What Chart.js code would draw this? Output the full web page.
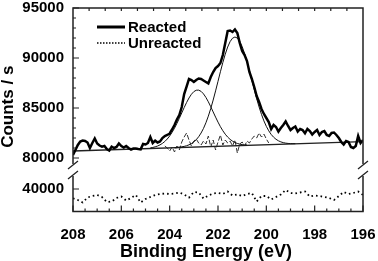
<!DOCTYPE html>
<html>
<head>
<meta charset="utf-8">
<script src="https://cdn.jsdelivr.net/npm/chart.js@4"></script>
<style>html,body{margin:0;padding:0;background:#fff}</style>
</head>
<body>
<canvas id="xps" width="378" height="261"></canvas>
<script>
// binding energy grid, 0.1 eV steps
const energy = [
  208, 207.9, 207.8, 207.7, 207.6, 207.5, 207.4, 207.3, 207.2, 207.1,
  207, 206.9, 206.8, 206.7, 206.6, 206.5, 206.4, 206.3, 206.2, 206.1,
  206, 205.9, 205.8, 205.7, 205.6, 205.5, 205.4, 205.3, 205.2, 205.1,
  205, 204.9, 204.8, 204.7, 204.6, 204.5, 204.4, 204.3, 204.2, 204.1,
  204, 203.9, 203.8, 203.7, 203.6, 203.5, 203.4, 203.3, 203.2, 203.1,
  203, 202.9, 202.8, 202.7, 202.6, 202.5, 202.4, 202.3, 202.2, 202.1,
  202, 201.9, 201.8, 201.7, 201.6, 201.5, 201.4, 201.3, 201.2, 201.1,
  201, 200.9, 200.8, 200.7, 200.6, 200.5, 200.4, 200.3, 200.2, 200.1,
  200, 199.9, 199.8, 199.7, 199.6, 199.5, 199.4, 199.3, 199.2, 199.1,
  199, 198.9, 198.8, 198.7, 198.6, 198.5, 198.4, 198.3, 198.2, 198.1,
  198, 197.9, 197.8, 197.7, 197.6, 197.5, 197.4, 197.3, 197.2, 197.1,
  197, 196.9, 196.8, 196.7, 196.6, 196.5, 196.4, 196.3, 196.2, 196.1,
  196
];

const reacted = [
  80300, 80800, 81300, 81650, 81750, 81700, 81550, 81000, 81500, 81950,
  81450, 81250, 81130, 81200, 80900, 80750, 81130, 81000, 81100, 81450,
  81200, 81050, 81200, 81000, 80850, 80950, 80950, 80900, 80870, 81400,
  81350, 81500, 82100, 81500, 81730, 81550, 81650, 82000, 82200, 82300,
  82450, 82850, 83300, 83850, 84300, 85100, 86400, 87130, 87900, 87800,
  87600, 87800, 87950, 87900, 87750, 87600, 87450, 88100, 88600, 89000,
  89200, 89500, 90300, 91500, 92700, 92750, 92600, 92850, 92500, 91500,
  90700, 90300, 89700, 88600, 87900, 87100, 86200, 85600, 84900, 84400,
  84000, 83600, 82900, 83300, 83100, 82650, 83000, 83300, 83650, 83200,
  82800, 83000, 83150, 82650, 82900, 82800, 82470, 82900, 82700, 82350,
  82600, 82800, 82300, 82600, 82700, 82300, 82200, 82500, 82550, 82300,
  82000, 81600, 81350, 81700, 81600, 81100, 81000, 81200, 82200, 81500,
  81800
];

// unreacted, every second energy point (0.2 eV)
const unreacted = [
  39070, 38900, 38650, 39150, 39300, 39400, 39200, 38700, 38750, 39100,
  39250, 38850, 39100, 39400, 38650, 39000, 39200, 39400, 39500, 39550,
  39500, 39550, 39650, 39450, 39150, 39700, 39650, 39050, 39350, 39550,
  39600, 39500, 39750, 39350, 39450, 39300, 39500, 39600, 38750, 39300,
  39300, 38950, 39200, 39450, 39900, 39600, 39550, 39650, 39750, 39250,
  39350, 39300, 39200, 39100, 38900, 39300, 39700, 39500, 39600, 39750,
  39400
];

// fitted components, 204.8 -> 200.8 eV
const peak1 = [
  81010, 81055, 81116, 81198, 81311, 81461, 81653, 81899, 82201, 82564,
  82983, 83457, 83971, 84506, 85041, 85549, 86003, 86373, 86640, 86778,
  86786, 86663, 86411, 86057, 85619, 85127, 84606, 84087, 83589, 83131,
  82726, 82379, 82093, 81863, 81685, 81551, 81454, 81387, 81341, 81313,
  81298
];
// 203.8 -> 198.8 eV
const peak2 = [
  81040, 81059, 81083, 81116, 81162, 81227, 81317, 81442, 81610, 81834,
  82127, 82499, 82962, 83523, 84186, 84948, 85795, 86712, 87668, 88628,
  89547, 90385, 91095, 91637, 91978, 92099, 91994, 91668, 91141, 90447,
  89625, 88721, 87776, 86836, 85935, 85103, 84356, 83709, 83164, 82716,
  82359, 82082, 81873, 81721, 81611, 81537, 81488, 81457, 81439, 81431,
  81428
];
// residual, 204.2 -> 199.9 eV
const residual = [
  81200, 81000, 80700, 81100, 80600, 81200, 80800, 81600, 82100, 82500,
  81800, 81200, 81700, 81900, 81500, 81300, 81700, 81400, 82200, 81100,
  81800, 80800, 81600, 82300, 81300, 81800, 81500, 81700, 81200, 81800,
  80500, 81400, 81600, 81200, 81700, 81500, 81900, 82200, 82000, 82500,
  82100, 82400, 81900, 81500
];

const bgEnergy = [208, 196];
const background = [80700, 81630];

const yTicksTop = [80000, 85000, 90000, 95000];
const yTicksBottom = [40000];

const pts = (xs, ys) => ys.map((y, i) => ({ x: xs[i], y: y }));

const FONT = '"Liberation Sans", Arial, sans-serif';

const breakFrame = {
  id: 'breakFrame',
  afterDraw(chart) {
    const { ctx, chartArea: a, scales } = chart;
    const x = scales.x, y = scales.y, y2 = scales.y2;
    const cut = Math.min(y.bottom, y2.bottom);
    const g1 = cut - 6, g2 = cut + 6;

    ctx.save();
    ctx.strokeStyle = '#222';
    ctx.lineWidth = 1.5;
    ctx.beginPath();
    ctx.moveTo(a.left, g1); ctx.lineTo(a.left, a.top);
    ctx.lineTo(a.right, a.top); ctx.lineTo(a.right, g1);
    ctx.moveTo(a.left, g2); ctx.lineTo(a.left, a.bottom);
    ctx.lineTo(a.right, a.bottom); ctx.lineTo(a.right, g2);
    ctx.stroke();

    // axis break marks
    ctx.lineWidth = 1.3;
    ctx.beginPath();
    [a.left, a.right].forEach((xe) => {
      [g1 + 1, g2 - 1].forEach((ye) => {
        ctx.moveTo(xe - 5, ye + 4);
        ctx.lineTo(xe + 5, ye - 4);
      });
    });
    ctx.stroke();

    // inward ticks
    ctx.lineWidth = 1.2;
    ctx.beginPath();
    for (let v = 196; v <= 208; v += 0.5) {
      const px = x.getPixelForValue(v);
      const len = v % 2 === 0 ? 6 : 3;
      ctx.moveTo(px, a.bottom); ctx.lineTo(px, a.bottom - len);
    }
    for (let k = 1; k < 18; k++) {
      const px = x.getPixelForValue(208 - (k * 2) / 3);
      ctx.moveTo(px, a.top); ctx.lineTo(px, a.top + 3);
    }
    for (let v = 79000; v <= 95000; v += 1000) {
      const py = y.getPixelForValue(v);
      if (py > g1) continue;
      const len = v % 5000 === 0 ? 6 : 3;
      ctx.moveTo(a.left, py); ctx.lineTo(a.left + len, py);
    }
    yTicksBottom.forEach((v) => {
      const py = y2.getPixelForValue(v);
      ctx.moveTo(a.left, py); ctx.lineTo(a.left + 6, py);
    });
    ctx.stroke();

    // legend
    const ds = chart.data.datasets;
    ctx.fillStyle = '#000';
    ctx.font = 'bold 15px ' + FONT;
    ctx.textBaseline = 'middle';
    ctx.textAlign = 'left';
    [0, 1].forEach((i, row) => {
      const ly = a.top + 19 + row * 16;
      ctx.beginPath();
      ctx.lineWidth = i === 0 ? 3 : 1.5;
      ctx.setLineDash(i === 0 ? [] : [1.5, 1.5]);
      ctx.strokeStyle = '#000';
      ctx.moveTo(a.left + 24, ly); ctx.lineTo(a.left + 52, ly);
      ctx.stroke();
      ctx.setLineDash([]);
      ctx.fillText(ds[i].label, a.left + 55, ly + 1);
    });

    // axis titles
    ctx.font = 'bold 18px ' + FONT;
    ctx.textAlign = 'center';
    ctx.textBaseline = 'alphabetic';
    ctx.fillText('Binding Energy (eV)', (a.left + a.right) / 2 - 12, 257);
    ctx.translate(8, (a.top + a.bottom) / 2 - 3);
    ctx.rotate(-Math.PI / 2);
    ctx.font = 'bold 17px ' + FONT;
    ctx.textBaseline = 'middle';
    ctx.fillText('Counts / s', 0, 0);
    ctx.restore();
  }
};

const tickFont = { family: FONT, size: 15, weight: 'bold' };
const noGrid = { display: false, drawTicks: false, tickLength: 0 };

// fixed axis sizes, no label overflow padding
const fitY = (s) => { s.width = 51; s.paddingTop = 0; s.paddingBottom = 0; };
const fitX = (s) => { s.height = 35; s.paddingLeft = 0; s.paddingRight = 0; };

new Chart(document.getElementById('xps'), {
  type: 'line',
  data: {
    datasets: [
      {
        label: 'Reacted',
        data: pts(energy, reacted),
        yAxisID: 'y',
        borderColor: '#000',
        borderWidth: 2.5,
        pointRadius: 0
      },
      {
        label: 'Unreacted',
        data: pts(energy.filter((e, i) => i % 2 === 0), unreacted),
        yAxisID: 'y2',
        borderColor: '#000',
        borderWidth: 1.8,
        borderDash: [1.6, 3],
        pointRadius: 0
      },
      {
        label: 'Peak 1',
        data: pts(energy.slice(32, 73), peak1),
        yAxisID: 'y',
        borderColor: '#111',
        borderWidth: 1,
        pointRadius: 0
      },
      {
        label: 'Peak 2',
        data: pts(energy.slice(42, 93), peak2),
        yAxisID: 'y',
        borderColor: '#111',
        borderWidth: 1,
        pointRadius: 0
      },
      {
        label: 'Background',
        data: pts(bgEnergy, background),
        yAxisID: 'y',
        borderColor: '#222',
        borderWidth: 1.3,
        pointRadius: 0
      },
      {
        label: 'Residual',
        data: pts(energy.slice(38, 82), residual),
        yAxisID: 'y',
        borderColor: '#333',
        borderWidth: 1,
        borderDash: [5, 2],
        pointRadius: 0
      }
    ]
  },
  options: {
    responsive: false,
    animation: false,
    layout: { padding: { left: 22, right: 15, top: 8, bottom: 14.5 } },
    plugins: {
      legend: { display: false },
      tooltip: { enabled: false }
    },
    scales: {
      x: {
        type: 'linear',
        reverse: true,
        min: 196,
        max: 208,
        grid: noGrid,
        border: { display: false },
        afterFit: fitX,
        ticks: {
          stepSize: 2,
          padding: 14,
          color: '#000',
          font: tickFont,
          maxRotation: 0,
          callback: (v) => String(v)
        }
      },
      y2: {
        type: 'linear',
        position: 'left',
        stack: 'counts',
        stackWeight: 41.5,
        min: 37750,
        max: 41900,
        grid: noGrid,
        border: { display: false },
        afterFit: fitY,
        afterBuildTicks: (s) => { s.ticks = yTicksBottom.map((v) => ({ value: v })); },
        ticks: { padding: 9, color: '#000', font: tickFont, callback: (v) => String(v) }
      },
      y: {
        type: 'linear',
        position: 'left',
        stack: 'counts',
        stackWeight: 162,
        min: 78800,
        max: 95000,
        grid: noGrid,
        border: { display: false },
        afterFit: fitY,
        afterBuildTicks: (s) => { s.ticks = yTicksTop.map((v) => ({ value: v })); },
        ticks: { padding: 9, color: '#000', font: tickFont, callback: (v) => String(v) }
      }
    }
  },
  plugins: [breakFrame]
});
</script>
</body>
</html>
